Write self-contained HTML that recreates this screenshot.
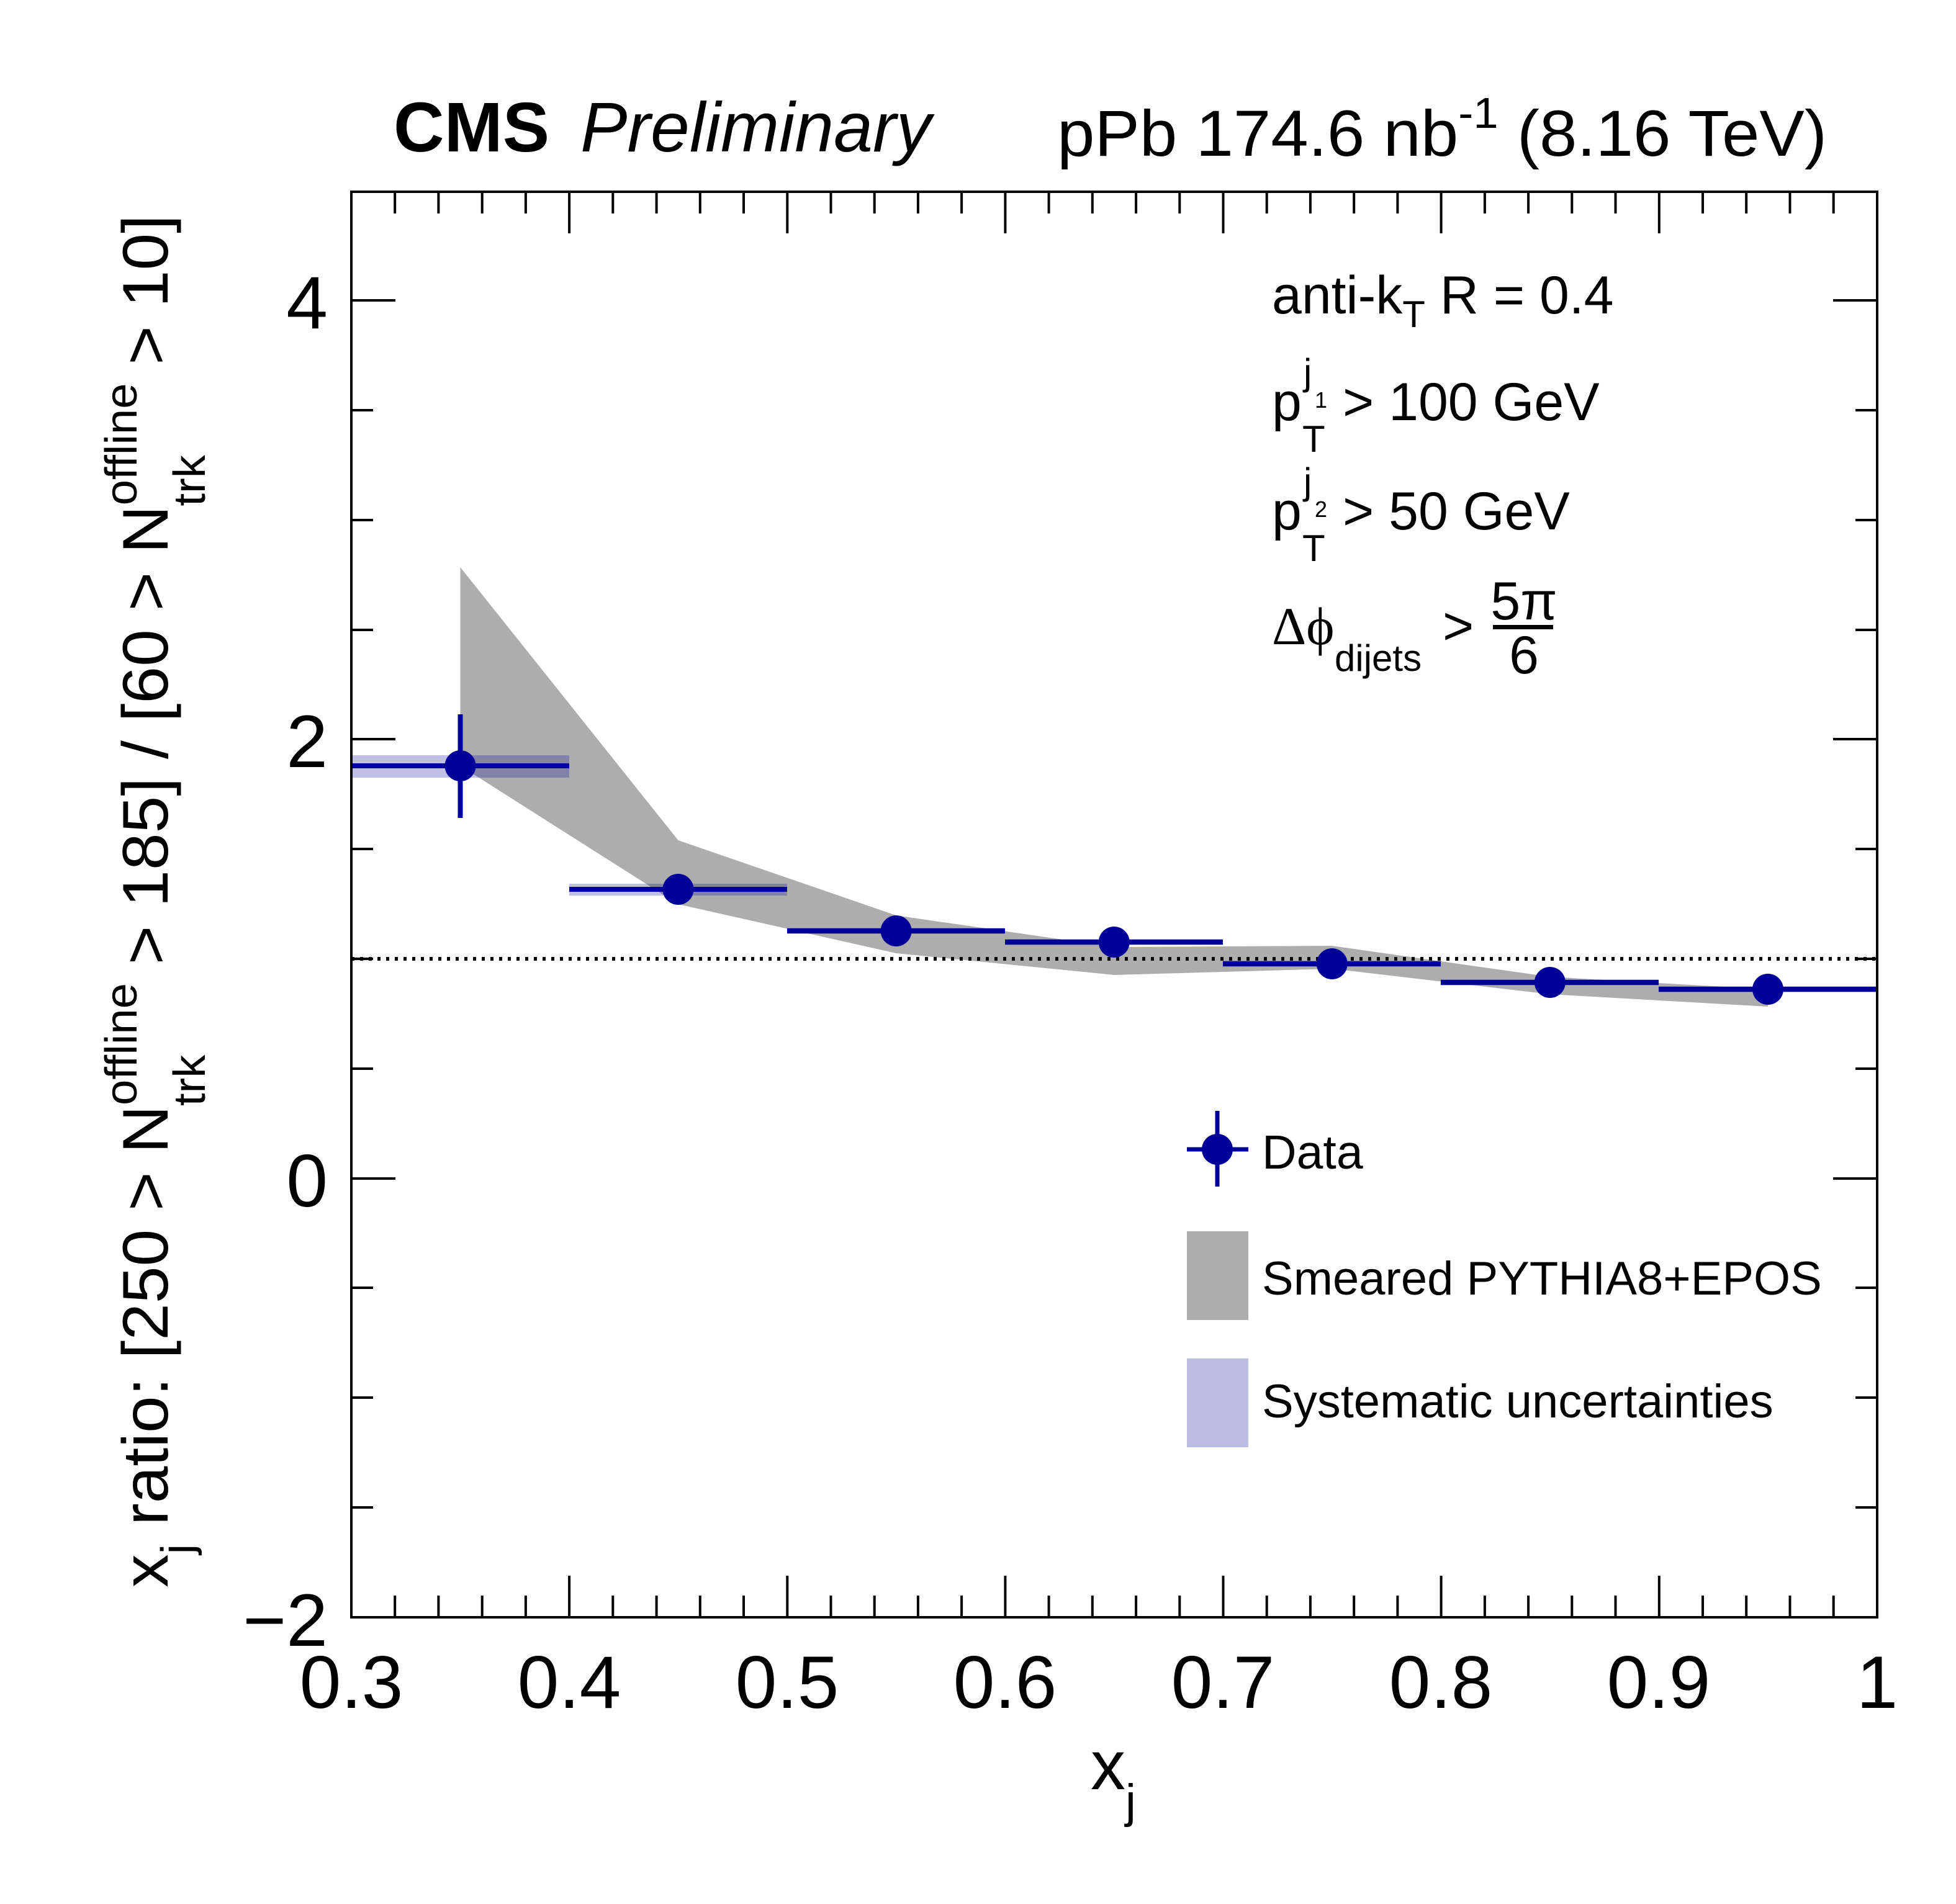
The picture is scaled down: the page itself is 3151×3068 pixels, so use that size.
<!DOCTYPE html>
<html><head><meta charset="utf-8"><style>html,body{margin:0;padding:0;background:#fff}svg{display:block}</style></head>
<body>
<svg xmlns="http://www.w3.org/2000/svg" width="3151" height="3068" viewBox="0 0 3151 3068" font-family="'Liberation Sans', Arial, sans-serif">
<rect width="3151" height="3068" fill="#fff"/>
<polygon fill="#adadad" points="741.5,914 1092.5,1354 1443.6,1475 1794.7,1526 2145.8,1524 2496.9,1574 2848,1594 2848,1622 2496.9,1602 2145.8,1561 1794.7,1571 1443.6,1536 1092.5,1457 741.5,1234"/>
<g fill="#0000a0" fill-opacity="0.25">
<rect x="566" y="1217" width="351" height="36"/>
<rect x="917" y="1424" width="351" height="19"/>
<rect x="1268" y="1495" width="351" height="10"/>
<rect x="1619" y="1513" width="351" height="10"/>
<rect x="1970" y="1548" width="351" height="10"/>
<rect x="2321" y="1578" width="351" height="10"/>
<rect x="2672" y="1589" width="352" height="10"/>
</g>
<line x1="566" y1="1545" x2="3024" y2="1545" stroke="#000" stroke-width="6" stroke-dasharray="5,9"/>
<g stroke="#000099" stroke-width="8" fill="#000099">
<line x1="566" y1="1234" x2="917" y2="1234"/>
<line x1="741.5" y1="1151" x2="741.5" y2="1318"/>
<line x1="917" y1="1433" x2="1268" y2="1433"/>
<line x1="1268" y1="1500" x2="1619" y2="1500"/>
<line x1="1619" y1="1518" x2="1970" y2="1518"/>
<line x1="1970" y1="1553" x2="2321" y2="1553"/>
<line x1="2321" y1="1583" x2="2672" y2="1583"/>
<line x1="2672" y1="1594" x2="3024" y2="1594"/>
</g>
<g fill="#000099">
<circle cx="741.5" cy="1234" r="25"/>
<circle cx="1092.5" cy="1433" r="25"/>
<circle cx="1443.6" cy="1500" r="25"/>
<circle cx="1794.7" cy="1518" r="25"/>
<circle cx="2145.8" cy="1553" r="25"/>
<circle cx="2496.9" cy="1583" r="25"/>
<circle cx="2848" cy="1594" r="25"/>
</g>
<rect x="566" y="309" width="2458" height="2297" fill="none" stroke="#000" stroke-width="4"/>
<g stroke="#000" stroke-width="4">
<path d="M566,2606v-67M636.2,2606v-35M706.4,2606v-35M776.7,2606v-35M846.9,2606v-35M917.1,2606v-67M987.3,2606v-35M1057.6,2606v-35M1127.8,2606v-35M1198,2606v-35M1268.3,2606v-67M1338.5,2606v-35M1408.7,2606v-35M1478.9,2606v-35M1549.1,2606v-35M1619.4,2606v-67M1689.6,2606v-35M1759.8,2606v-35M1830.1,2606v-35M1900.3,2606v-35M1970.5,2606v-67M2040.7,2606v-35M2110.9,2606v-35M2181.2,2606v-35M2251.4,2606v-35M2321.6,2606v-67M2391.9,2606v-35M2462.1,2606v-35M2532.3,2606v-35M2602.5,2606v-35M2672.8,2606v-67M2743,2606v-35M2813.2,2606v-35M2883.5,2606v-35M2953.7,2606v-35"/>
<path d="M566,309v67M636.2,309v35M706.4,309v35M776.7,309v35M846.9,309v35M917.1,309v67M987.3,309v35M1057.6,309v35M1127.8,309v35M1198,309v35M1268.3,309v67M1338.5,309v35M1408.7,309v35M1478.9,309v35M1549.1,309v35M1619.4,309v67M1689.6,309v35M1759.8,309v35M1830.1,309v35M1900.3,309v35M1970.5,309v67M2040.7,309v35M2110.9,309v35M2181.2,309v35M2251.4,309v35M2321.6,309v67M2391.9,309v35M2462.1,309v35M2532.3,309v35M2602.5,309v35M2672.8,309v67M2743,309v35M2813.2,309v35M2883.5,309v35M2953.7,309v35"/>
<path d="M566,2606h71M566,2429h35M566,2252h35M566,2075h35M566,1899h71M566,1722h35M566,1545h35M566,1368h35M566,1191h71M566,1015h35M566,838h35M566,661h35M566,484h71"/>
<path d="M3024,2606h-71M3024,2429h-35M3024,2252h-35M3024,2075h-35M3024,1899h-71M3024,1722h-35M3024,1545h-35M3024,1368h-35M3024,1191h-71M3024,1015h-35M3024,838h-35M3024,661h-35M3024,484h-71"/>
</g>
<g font-size="120" text-anchor="middle" fill="#000">
<text x="566" y="2752">0.3</text>
<text x="917" y="2752">0.4</text>
<text x="1268" y="2752">0.5</text>
<text x="1619" y="2752">0.6</text>
<text x="1970" y="2752">0.7</text>
<text x="2321" y="2752">0.8</text>
<text x="2672" y="2752">0.9</text>
<text x="3024" y="2752">1</text>
</g>
<g font-size="120" text-anchor="end" fill="#000">
<text x="528" y="2652">−2</text>
<text x="528" y="1944">0</text>
<text x="528" y="1236">2</text>
<text x="528" y="529">4</text>
</g>
<text x="1757" y="2883" font-size="112">x<tspan font-size="76" dy="45">j</tspan></text>
<text transform="translate(270,2558) rotate(-90)" font-size="104" textLength="2212" lengthAdjust="spacingAndGlyphs">x<tspan font-size="72" dy="40">j</tspan><tspan dy="-40"> ratio: [250 &gt; N</tspan><tspan font-size="72" dy="-50">offline</tspan><tspan font-size="72" dx="-192" dy="110">trk</tspan><tspan dy="-60" dx="112"> &gt; 185] / [60 &gt; N</tspan><tspan font-size="72" dy="-50">offline</tspan><tspan font-size="72" dx="-192" dy="110">trk</tspan><tspan dy="-60" dx="112"> &gt; 10]</tspan></text>
<text x="634" y="244" font-size="113" font-weight="bold">CMS</text>
<text x="935" y="244" font-size="113" font-style="italic">Preliminary</text>
<text x="1703" y="251" font-size="105" textLength="1240" lengthAdjust="spacingAndGlyphs">pPb 174.6 nb<tspan font-size="70" dy="-45">-1</tspan><tspan dy="45"> (8.16 TeV)</tspan></text>
<g fill="#000">
<text x="2049" y="505" font-size="86">anti-k<tspan font-size="60" dy="22">T</tspan><tspan dy="-22"> R = 0.4</tspan></text>
<text x="2049" y="677" font-size="86">p</text>
<text x="2098" y="728" font-size="60">T</text>
<text x="2100" y="620" font-size="60">j</text>
<text x="2118" y="657" font-size="36">1</text>
<text x="2163" y="677" font-size="86">&gt; 100 GeV</text>
<text x="2049" y="853" font-size="86">p</text>
<text x="2098" y="904" font-size="60">T</text>
<text x="2100" y="796" font-size="60">j</text>
<text x="2118" y="833" font-size="36">2</text>
<text x="2163" y="853" font-size="86">&gt; 50 GeV</text>
<text x="2049" y="1038" font-size="86" font-family="'Liberation Serif', serif">Δϕ</text>
<text x="2150" y="1081" font-size="60">dijets</text>
<text x="2324" y="1038" font-size="86">&gt;</text>
<text x="2455" y="998" font-size="86" text-anchor="middle">5π</text>
<rect x="2405" y="1007" width="97" height="7"/>
<text x="2455" y="1085" font-size="86" text-anchor="middle">6</text>
</g>
<line x1="1961" y1="1790" x2="1961" y2="1912" stroke="#000099" stroke-width="7"/>
<line x1="1912" y1="1852" x2="2011" y2="1852" stroke="#000099" stroke-width="7"/>
<circle cx="1961" cy="1852" r="25" fill="#000099"/>
<text x="2033" y="1883" font-size="77">Data</text>
<rect x="1912" y="1984" width="99" height="143" fill="#adadad"/>
<text x="2033" y="2086" font-size="76">Smeared PYTHIA8+EPOS</text>
<rect x="1912" y="2189" width="99" height="143" fill="#bebee3"/>
<text x="2033" y="2284" font-size="76">Systematic uncertainties</text>
</svg>
</body></html>
